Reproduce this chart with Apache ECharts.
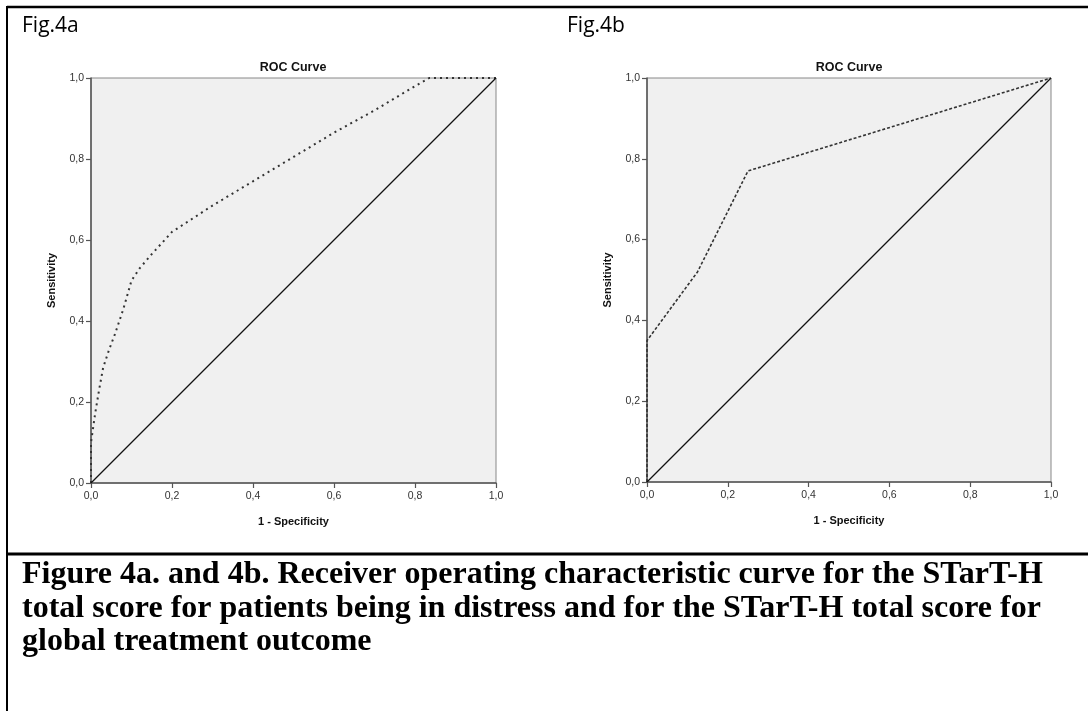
<!DOCTYPE html>
<html>
<head>
<meta charset="utf-8">
<script src="https://cdn.jsdelivr.net/npm/echarts@6/dist/echarts.min.js"></script>
<style>
html,body{margin:0;padding:0;background:#fff;}
#c{width:1088px;height:711px;}
</style>
</head>
<body>
<div id="c"></div>
<script>
// ---- data ----
const tickValues = [0, 0.2, 0.4, 0.6, 0.8, 1.0];
const fpr4a = [0, 0, 0.01, 0.02, 0.03, 0.045, 0.06, 0.08, 0.10, 0.12, 0.15, 0.20, 0.30, 0.40, 0.50, 0.60, 0.70, 0.80, 0.835, 1.0];
const tpr4a = [0, 0.10, 0.17, 0.23, 0.285, 0.33, 0.37, 0.43, 0.50, 0.53, 0.565, 0.62, 0.685, 0.745, 0.805, 0.865, 0.92, 0.98, 1.0, 1.0];
const fpr4b = [0, 0, 0.125, 0.25, 1.0];
const tpr4b = [0, 0.35, 0.52, 0.77, 1.0];
const diagX = [0, 1];
const diagY = [0, 1];
const panelLabels = ['Fig.4a', 'Fig.4b'];
const chartTitle = 'ROC Curve';
const xName = '1 - Specificity';
const yName = 'Sensitivity';
const caption = 'Figure 4a. and 4b. Receiver operating characteristic curve for the STarT-H\ntotal score for patients being in distress and for the STarT-H total score for\nglobal treatment outcome';

const zip = (a, b) => a.map((v, i) => [v, b[i]]);
const fmt = v => v.toFixed(1).replace('.', ',');

const grids = [
  {left: 91, top: 78, width: 405, height: 405},
  {left: 647, top: 78, width: 404, height: 404}
];

function xAxisFor(i) {
  return {
    type: 'value', gridIndex: i, min: tickValues[0], max: tickValues[tickValues.length - 1], interval: 0.2,
    name: xName, nameLocation: 'middle', nameGap: 33,
    nameTextStyle: {fontFamily: 'Liberation Sans', fontWeight: 'bold', fontSize: 11, color: '#111'},
    axisLine: {show: true, lineStyle: {color: '#555', width: 1.5}},
    axisTick: {show: true, length: 5, lineStyle: {color: '#555', width: 1.2}},
    axisLabel: {formatter: fmt, margin: 8, fontFamily: 'Liberation Sans', fontSize: 10.5, color: '#333'},
    splitLine: {show: false}
  };
}
function yAxisFor(i) {
  return {
    type: 'value', gridIndex: i, min: tickValues[0], max: tickValues[tickValues.length - 1], interval: 0.2,
    name: yName, nameLocation: 'middle', nameGap: 34, nameRotate: 90,
    nameTextStyle: {fontFamily: 'Liberation Sans', fontWeight: 'bold', fontSize: 11, color: '#111'},
    axisLine: {show: true, lineStyle: {color: '#555', width: 1.5}},
    axisTick: {show: true, length: 5, lineStyle: {color: '#555', width: 1.2}},
    axisLabel: {formatter: fmt, margin: 7, fontFamily: 'Liberation Sans', fontSize: 10.5, color: '#333'},
    splitLine: {show: false}
  };
}

const chart = echarts.init(document.getElementById('c'), null, {renderer: 'canvas'});
chart.setOption({
  animation: false,
  backgroundColor: '#fff',
  title: [
    {text: panelLabels[0], left: 22, top: 16, padding: 0, textStyle: {fontFamily: 'Open Sans', fontWeight: 'normal', fontSize: 21, color: '#000'}},
    {text: panelLabels[1], left: 567, top: 16, padding: 0, textStyle: {fontFamily: 'Open Sans', fontWeight: 'normal', fontSize: 21, color: '#000'}},
    {text: chartTitle, left: 293, textAlign: 'center', top: 61, padding: 0, textStyle: {fontFamily: 'Liberation Sans', fontWeight: 'bold', fontSize: 12.5, color: '#111'}},
    {text: chartTitle, left: 849, textAlign: 'center', top: 61, padding: 0, textStyle: {fontFamily: 'Liberation Sans', fontWeight: 'bold', fontSize: 12.5, color: '#111'}},
    {text: caption, left: 22, top: 558, padding: 0, textStyle: {fontFamily: 'Liberation Serif', fontWeight: 'bold', fontSize: 32, lineHeight: 33.5, color: '#000'}}
  ],
  grid: grids.map(g => Object.assign({show: true, backgroundColor: '#f0f0f0', borderColor: '#888', borderWidth: 1}, g)),
  xAxis: [xAxisFor(0), xAxisFor(1)],
  yAxis: [yAxisFor(0), yAxisFor(1)],
  series: [
    {type: 'line', xAxisIndex: 0, yAxisIndex: 0, data: zip(fpr4a, tpr4a), showSymbol: false,
     lineStyle: {color: '#333', width: 2, type: [2, 4]}},
    {type: 'line', xAxisIndex: 0, yAxisIndex: 0, data: zip(diagX, diagY), showSymbol: false,
     lineStyle: {color: '#111', width: 1.2}},
    {type: 'line', xAxisIndex: 1, yAxisIndex: 1, data: zip(fpr4b, tpr4b), showSymbol: false,
     lineStyle: {color: '#333', width: 1.6, type: [3, 2]}},
    {type: 'line', xAxisIndex: 1, yAxisIndex: 1, data: zip(diagX, diagY), showSymbol: false,
     lineStyle: {color: '#111', width: 1.2}}
  ],
  graphic: [
    {type: 'line', shape: {x1: 7, y1: 7, x2: 1088, y2: 7}, style: {stroke: '#000', lineWidth: 2.5}},
    {type: 'line', shape: {x1: 7, y1: 6, x2: 7, y2: 711}, style: {stroke: '#000', lineWidth: 2}},
    {type: 'line', shape: {x1: 7, y1: 554, x2: 1088, y2: 554}, style: {stroke: '#000', lineWidth: 3}}
  ]
});
</script>
</body>
</html>
